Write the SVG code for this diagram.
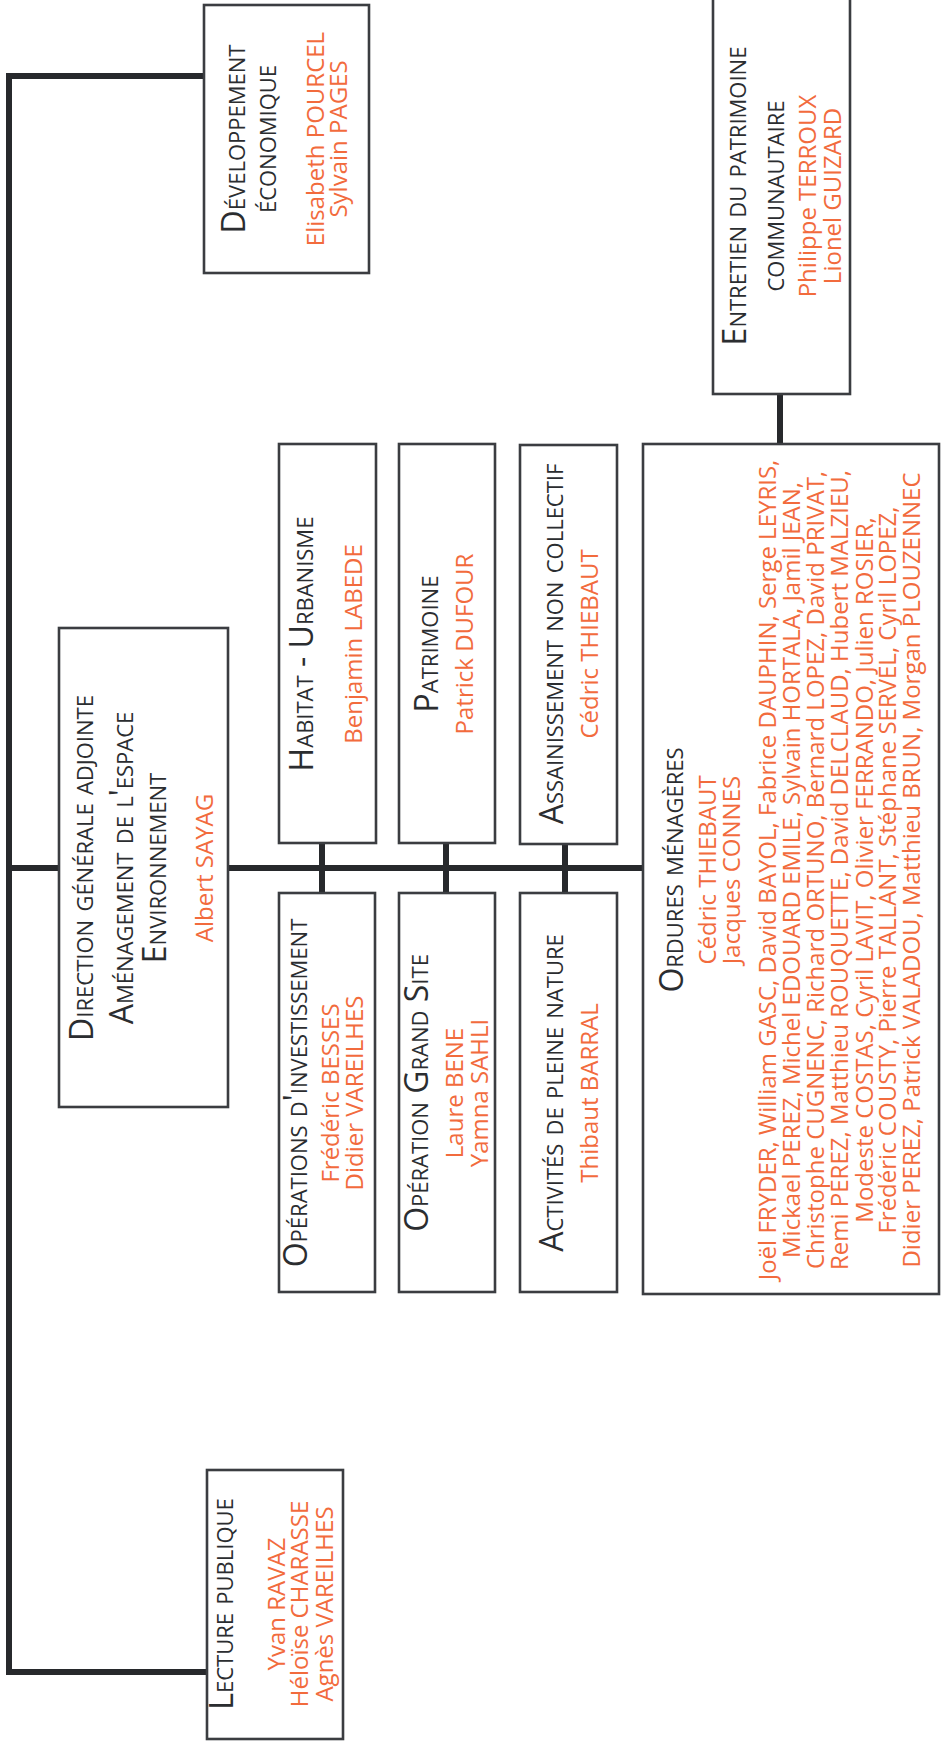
<svg xmlns="http://www.w3.org/2000/svg" width="947" height="1742" viewBox="0 0 947 1742">
<style>
.box{fill:#ffffff;stroke:#3b3d41;stroke-width:2.6}
.ln{fill:none;stroke:#27292c;stroke-width:6;stroke-linejoin:miter;stroke-linecap:butt}
text{font-family:"Open Sans","Noto Sans","DejaVu Sans",sans-serif;text-anchor:middle}
.t{font-size:32px;font-variant:small-caps;fill:#2b2d30}
.n{font-size:24px;fill:#f26b3d}
</style>
<rect width="947" height="1742" fill="#ffffff"/>
<g id="connectors">
<path class="ln" d="M203,76 H9 V1672 H206"/>
<path class="ln" d="M9,868 H58"/>
<path class="ln" d="M229,868 H642"/>
<path class="ln" d="M322,844 V892 M446,844 V892 M565,844 V892"/>
<path class="ln" d="M780,395 V443"/>
</g>
<g id="dev">
<rect class="box" x="204" y="5" width="165" height="268"/>
<text transform="translate(0,139) rotate(-90)"><tspan class="t" x="0" y="245">Développement</tspan><tspan class="t" x="0" y="276">économique</tspan><tspan class="n" x="0" y="324">Elisabeth POURCEL</tspan><tspan class="n" x="0" y="347">Sylvain PAGES</tspan></text>
</g>
<g id="entretien">
<rect class="box" x="713" y="-5" width="137" height="399"/>
<text transform="translate(0,196) rotate(-90)"><tspan class="t" x="0" y="746">Entretien du patrimoine</tspan><tspan class="t" x="0" y="784">communautaire</tspan><tspan class="n" x="0" y="816">Philippe TERROUX</tspan><tspan class="n" x="0" y="841">Lionel GUIZARD</tspan></text>
</g>
<g id="dga">
<rect class="box" x="59" y="628" width="169" height="479"/>
<text transform="translate(0,868) rotate(-90)"><tspan class="t" x="0" y="93">Direction générale adjointe</tspan><tspan class="t" x="0" y="133">Aménagement de l'espace</tspan><tspan class="t" x="0" y="166">Environnement</tspan><tspan class="n" x="0" y="213">Albert SAYAG</tspan></text>
</g>
<g id="habitat">
<rect class="box" x="279" y="444" width="97" height="399"/>
<text transform="translate(0,644) rotate(-90)"><tspan class="t" x="0" y="313">Habitat - Urbanisme</tspan><tspan class="n" x="0" y="362">Benjamin LABEDE</tspan></text>
</g>
<g id="patrimoine">
<rect class="box" x="399" y="444" width="96" height="399"/>
<text transform="translate(0,644) rotate(-90)"><tspan class="t" x="0" y="438">Patrimoine</tspan><tspan class="n" x="0" y="473">Patrick DUFOUR</tspan></text>
</g>
<g id="assainissement">
<rect class="box" x="520" y="445" width="97" height="399"/>
<text transform="translate(0,644) rotate(-90)"><tspan class="t" x="0" y="563">Assainissement non collectif</tspan><tspan class="n" x="0" y="598">Cédric THIEBAUT</tspan></text>
</g>
<g id="operations">
<rect class="box" x="279" y="893" width="96" height="399"/>
<text transform="translate(0,1093) rotate(-90)"><tspan class="t" x="0" y="307">Opérations d'investissement</tspan><tspan class="n" x="0" y="339">Frédéric BESSES</tspan><tspan class="n" x="0" y="363">Didier VAREILHES</tspan></text>
</g>
<g id="grandsite">
<rect class="box" x="399" y="893" width="96" height="399"/>
<text transform="translate(0,1093) rotate(-90)"><tspan class="t" x="0" y="428">Opération Grand Site</tspan><tspan class="n" x="0" y="463">Laure BENE</tspan><tspan class="n" x="0" y="488">Yamna SAHLI</tspan></text>
</g>
<g id="activites">
<rect class="box" x="520" y="893" width="97" height="399"/>
<text transform="translate(0,1093) rotate(-90)"><tspan class="t" x="0" y="563">Activités de pleine nature</tspan><tspan class="n" x="0" y="598">Thibaut BARRAL</tspan></text>
</g>
<g id="ordures">
<rect class="box" x="643" y="444" width="296" height="850"/>
<text transform="translate(0,870) rotate(-90)"><tspan class="t" x="0" y="683">Ordures ménagères</tspan><tspan class="n" x="0" y="716">Cédric THIEBAUT</tspan><tspan class="n" x="0" y="740">Jacques CONNES</tspan><tspan class="n" x="0" y="776">Joël FRYDER, William GASC, David BAYOL, Fabrice DAUPHIN, Serge LEYRIS,</tspan><tspan class="n" x="0" y="800">Mickael PEREZ, Michel EDOUARD EMILE, Sylvain HORTALA, Jamil JEAN,</tspan><tspan class="n" x="0" y="824">Christophe CUGNENC, Richard ORTUNO, Bernard LOPEZ, David PRIVAT,</tspan><tspan class="n" x="0" y="848">Remi PEREZ, Matthieu ROUQUETTE, David DELCLAUD, Hubert MALZIEU,</tspan><tspan class="n" x="0" y="873">Modeste COSTAS, Cyril LAVIT, Olivier FERRANDO, Julien ROSIER,</tspan><tspan class="n" x="0" y="896">Frédéric COUSTY, Pierre TALLANT, Stéphane SERVEL, Cyril LOPEZ,</tspan><tspan class="n" x="0" y="920">Didier PEREZ, Patrick VALADOU, Matthieu BRUN, Morgan PLOUZENNEC</tspan></text>
</g>
<g id="lecture">
<rect class="box" x="207" y="1470" width="136" height="269"/>
<text transform="translate(0,1604) rotate(-90)"><tspan class="t" x="0" y="233">Lecture publique</tspan><tspan class="n" x="0" y="285">Yvan RAVAZ</tspan><tspan class="n" x="0" y="308">Héloïse CHARASSE</tspan><tspan class="n" x="0" y="333">Agnès VAREILHES</tspan></text>
</g>
</svg>
